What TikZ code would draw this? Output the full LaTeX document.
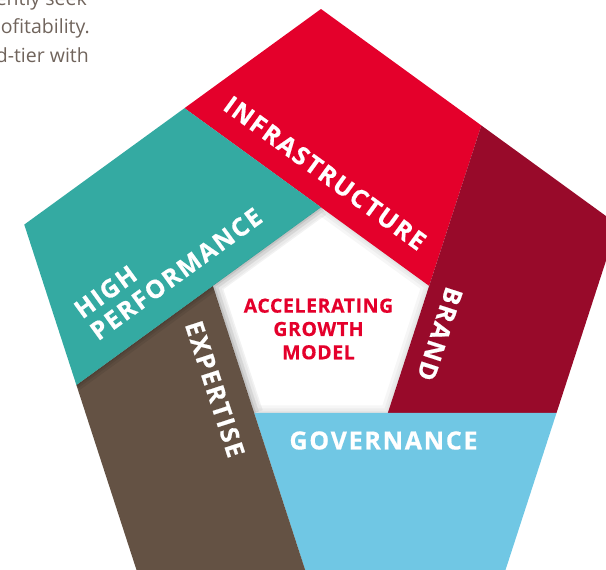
\documentclass[tikz,border=0pt]{standalone}
\usepackage{fontspec}
\setmainfont{Open Sans}
\usetikzlibrary{calc}

\definecolor{infracol}{RGB}{228,0,43}
\definecolor{brandcol}{RGB}{152,10,42}
\definecolor{govcol}{RGB}{112,199,228}
\definecolor{expertcol}{RGB}{100,82,68}
\definecolor{perfcol}{RGB}{52,170,162}
\definecolor{bodytext}{RGB}{112,100,92}

\begin{document}
\begin{tikzpicture}[x=1pt,y=-1pt,
  bandlabel/.style={text=white,inner sep=0pt,
    font=\bfseries\fontsize{25}{27}\selectfont\addfontfeature{LetterSpace=7,FakeBold=0.6}},
  corelabel/.style={text=infracol,inner sep=0pt,align=center,
    font=\bfseries\fontsize{19.5}{23.3}\selectfont\addfontfeature{LetterSpace=3,FakeBold=0.4}},
  bodyline/.style={text=bodytext,inner sep=0pt,anchor=base east,
    font=\fontsize{19.5}{28}\selectfont},
  softshade/.style={draw=black,line join=miter}]
\useasboundingbox (0,0) rectangle (606,570);

% outer pentagon (radius 312) and inner hole (radius 113.7), sharing one centre
\coordinate (C) at (321,321);
\foreach \n/\a in {T/-90,R/-18,BR/54,BL/126,L/198}{
  \coordinate (\n) at ($(C)+(\a:312)$);
  \coordinate (i\n) at ($(C)+(\a:113.7)$);
}

% band ends where a neighbouring strip's inner edge crosses an outer edge
\coordinate (infraEnd)  at (intersection of T--R and iR--iBR);
\coordinate (infraTail) at (intersection of iT--iR and L--T);
\coordinate (brandEnd)  at (intersection of R--BR and iBR--iBL);
\coordinate (brandTail) at (intersection of iR--iBR and T--R);
\coordinate (govEnd)    at (intersection of BR--BL and iBL--iL);
\coordinate (govTail)   at (intersection of iBR--iBL and R--BR);
\coordinate (expEnd)    at (intersection of BL--L and iL--iT);
\coordinate (expTail)   at (intersection of iBL--iL and BR--BL);
\coordinate (perfEnd)   at (intersection of L--T and iT--iR);
\coordinate (perfTail)  at (intersection of iL--iT and BL--L);

% the five strips
\fill[infracol]  (T)  -- (infraEnd) -- (iR)  -- (infraTail) -- cycle;
\fill[brandcol]  (R)  -- (brandEnd) -- (iBR) -- (brandTail) -- cycle;
\fill[govcol]    (BR) -- (govEnd)   -- (iBL) -- (govTail)   -- cycle;
\fill[expertcol] (BL) -- (expEnd)   -- (iL)  -- (expTail)   -- cycle;
\fill[perfcol]   (L)  -- (perfEnd)  -- (iT)  -- (perfTail)  -- cycle;

% soft shadow of the teal strip on the brown one
\begin{scope}
  \clip (BL) -- (expEnd) -- (iL) -- (expTail) -- cycle;
  \foreach \w in {3,7,12}
    \draw[softshade,opacity=0.07,line width=\w pt] (perfTail) -- (iT);
\end{scope}

% soft shadow inside the central hole
\begin{scope}
  \clip (iT) -- (iR) -- (iBR) -- (iBL) -- (iL) -- cycle;
  \foreach \w in {4,9,15}
    \draw[softshade,opacity=0.035,line width=\w pt]
      (iT) -- (iR) -- (iBR) -- (iBL) -- (iL) -- cycle;
  \foreach \w in {4,10,18}
    \draw[softshade,opacity=0.05,line width=\w pt] (iBL) -- (iL) -- (iT);
\end{scope}

% strip names
\node[bandlabel,rotate=-36] (infra) at (325,173) {INFRASTRUCTURE};
\node[bandlabel,rotate=-108] (brand) at (440,334) {BRAND};
\node[bandlabel] (gov) at (383.5,440.5) {GOVERNANCE};
\node[bandlabel,rotate=-72] (expertise) at (215,389) {EXPERTISE};
\node[bandlabel,rotate=36,align=left] (perf) at (168,263) {HIGH\\PERFORMANCE};

% centre title
\node[corelabel] (core) at (318.5,329) {ACCELERATING\\GROWTH\\MODEL};

% running text at the top left
\node[bodyline] (line1) at (87,5.5) {uently seek};
\node[bodyline] (line2) at (90,34) {ofitability.};
\node[bodyline] (line3) at (89,62.5) {d-tier with};
\end{tikzpicture}
\end{document}
